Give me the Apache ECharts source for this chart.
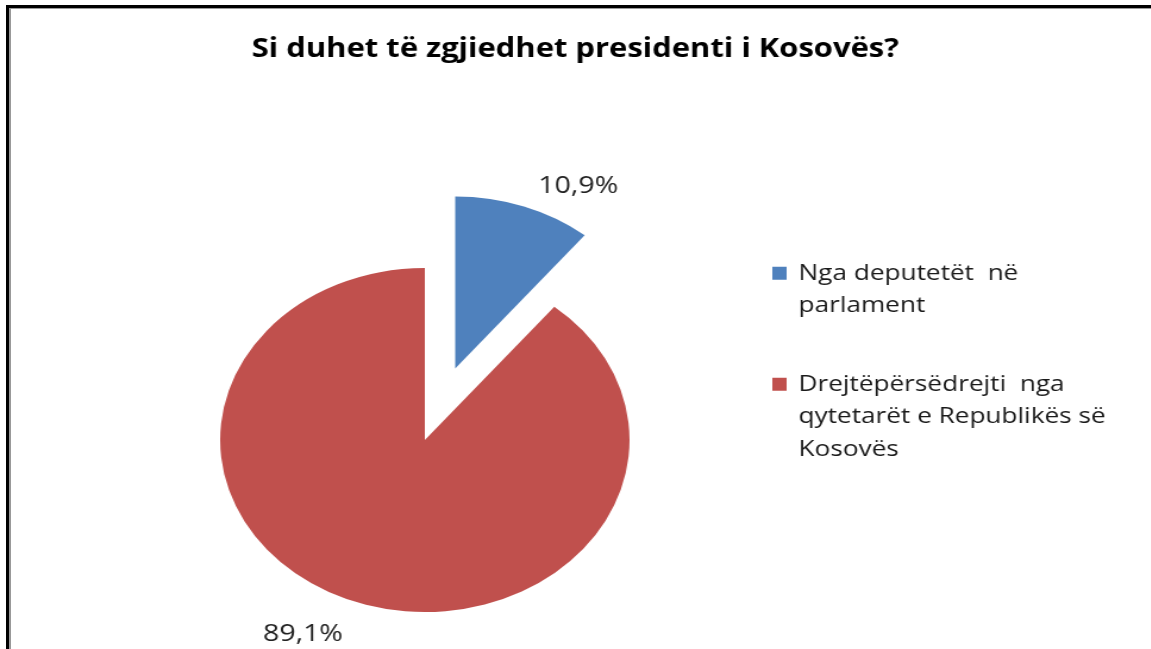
<!DOCTYPE html>
<html>
<head>
<meta charset="utf-8">
<script src="https://cdn.jsdelivr.net/npm/echarts@6/dist/echarts.min.js"></script>
<style>
  body { margin: 0; background: #fff; overflow: hidden; }
  #frame {
    position: absolute; left: 6px; top: 5px; width: 1200px; height: 700px;
    border-top: 3px solid #000; border-left: 3px solid #000;
  }
  #frame2 {
    position: absolute; left: 0; top: 0; width: 100%; height: 100%;
    border-top: 1px solid #999; border-left: 2px solid #999;
  }
  #chart {
    position: absolute; left: 0; top: 0; width: 967px; height: 649px;
    transform: scaleX(1.19); transform-origin: 0 0;
  }
</style>
</head>
<body>
<div id="frame"><div id="frame2"></div></div>
<div id="chart"></div>
<script>
// data
var titleText = 'Si duhet të zgjiedhet presidenti i Kosovës?';
var names = ['Nga deputetët në parlament', 'Drejtëpërsëdrejti nga qytetarët e Republikës së Kosovës'];
var legendLines = [
  ['Nga deputetët  në', 'parlament'],
  ['Drejtëpërsëdrejti  nga', 'qytetarët e Republikës së', 'Kosovës']
];
var values = [10.9, 89.1];
var valueLabels = ['10,9%', '89,1%'];
var colors = ['#4F81BD', '#C0504D'];

var lineH = 32.5;
var myChart = echarts.init(document.getElementById('chart'));

// legend icon: square at the top, box as tall as the text so the
// square sits beside the first line
function makeLegend(i, top) {
  var h = lineH * (legendLines[i].length - 1) + 13;
  return {
    orient: 'vertical',
    left: 644,
    top: top,
    data: [names[i]],
    icon: 'path://M0,0H12V13H0Z M0,' + h,
    itemWidth: 12,
    itemHeight: h,
    selectedMode: false,
    formatter: function () { return legendLines[i].join('\n'); },
    textStyle: {
      fontFamily: 'Open Sans',
      fontSize: 22,
      color: '#1a1a1a',
      lineHeight: lineH,
      padding: [0, 0, 0, 5]
    }
  };
}

var labelShift = [[-28, -6], [29, 18]];

var option = {
  animation: false,
  color: colors,
  title: {
    text: titleText,
    left: 'center',
    top: 32,
    textStyle: { fontFamily: 'Open Sans', fontWeight: 'bold', fontSize: 26, color: '#000' }
  },
  legend: [makeLegend(0, 252), makeLegend(1, 363)],
  series: [{
    type: 'pie',
    center: [357, 440],
    radius: 172,
    startAngle: 90,
    selectedMode: 'multiple',
    selectedOffset: 76,
    label: {
      show: true,
      position: 'outside',
      fontFamily: 'Open Sans',
      fontSize: 24,
      color: '#222',
      formatter: function (p) { return valueLabels[p.dataIndex]; }
    },
    labelLine: { show: false },
    labelLayout: function (p) {
      return { dx: labelShift[p.dataIndex][0], dy: labelShift[p.dataIndex][1] };
    },
    emphasis: { disabled: true },
    data: names.map(function (n, i) {
      return { name: n, value: values[i], selected: i === 0 };
    })
  }]
};

myChart.setOption(option);
</script>
</body>
</html>
